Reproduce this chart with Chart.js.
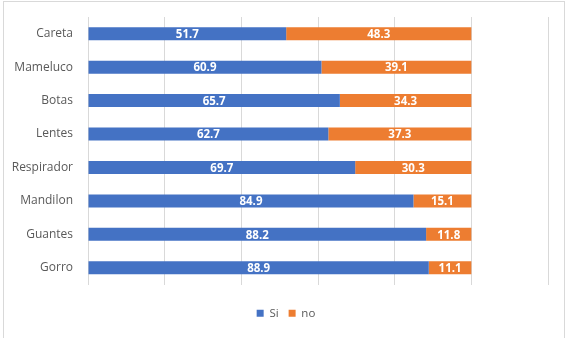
<!DOCTYPE html>
<html>
<head>
<meta charset="utf-8">
<script src="https://cdn.jsdelivr.net/npm/chart.js@4/dist/chart.umd.min.js"></script>
<style>
  html, body { margin: 0; padding: 0; background: #fff; }
  #wrap { position: relative; width: 567px; height: 338px; overflow: hidden; }
  #frame { position: absolute; left: 3px; top: 1px; width: 562px; height: 345px; border: 1px solid #d9d9d9; box-sizing: border-box; }
  canvas { position: absolute; left: 0; top: 0; }
</style>
</head>
<body>
<div id="wrap">
  <div id="frame"></div>
  <canvas id="c" width="567" height="338"></canvas>
</div>
<script>
const categories = ["Careta", "Mameluco", "Botas", "Lentes", "Respirador", "Mandilon", "Guantes", "Gorro"];
const siValues = [51.7, 60.9, 65.7, 62.7, 69.7, 84.9, 88.2, 88.9];
const noValues = [48.3, 39.1, 34.3, 37.3, 30.3, 15.1, 11.8, 11.1];
const seriesNames = ["Si", "no"];

const labelPlugin = {
  id: 'segLabels',
  afterLayout(chart) {
    if (chart.legend) { chart.legend.left += 12; chart.legend.right += 12; }
  },
  afterDatasetsDraw(chart) {
    const ctx = chart.ctx;
    ctx.save();
    ctx.fillStyle = '#ffffff';
    ctx.font = 'bold 11.5px "Open Sans", sans-serif';
    ctx.textAlign = 'center';
    ctx.textBaseline = 'middle';
    chart.data.datasets.forEach((ds, di) => {
      const meta = chart.getDatasetMeta(di);
      meta.data.forEach((el, i) => {
        const p = el.getProps(['x', 'y', 'base'], true);
        ctx.fillText(ds.data[i].toFixed(1), (p.x + p.base) / 2, p.y + 1);
      });
    });
    ctx.restore();
  }
};

new Chart(document.getElementById('c'), {
  type: 'bar',
  data: {
    labels: categories,
    datasets: [
      { label: seriesNames[0], data: siValues, backgroundColor: '#4472C4', barPercentage: 0.39, categoryPercentage: 1 },
      { label: seriesNames[1], data: noValues, backgroundColor: '#ED7D31', barPercentage: 0.39, categoryPercentage: 1 }
    ]
  },
  options: {
    indexAxis: 'y',
    responsive: false,
    animation: false,
    layout: { padding: { top: 17, right: 19, left: 0, bottom: 9 } },
    scales: {
      x: {
        stacked: true,
        min: 0, max: 120,
        ticks: { display: false, stepSize: 20 },
        grid: { color: '#d9d9d9', drawTicks: false, lineWidth: 1 },
        border: { display: false },
        afterFit(axis) { axis.height = 13; }
      },
      y: {
        stacked: true,
        grid: { display: false, drawTicks: false },
        border: { display: false },
        ticks: { color: '#595959', font: { family: '"Open Sans", sans-serif', size: 12 }, padding: 15 },
        afterFit(axis) { axis.width = 88; axis.paddingTop = 0; axis.paddingBottom = 0; }
      }
    },
    plugins: {
      legend: {
        position: 'bottom',
        labels: { boxWidth: 7, boxHeight: 7, color: '#595959', font: { family: '"Open Sans", sans-serif', size: 11.5 }, padding: 10 }
      },
      tooltip: { enabled: false }
    }
  },
  plugins: [labelPlugin]
});
</script>
</body>
</html>
